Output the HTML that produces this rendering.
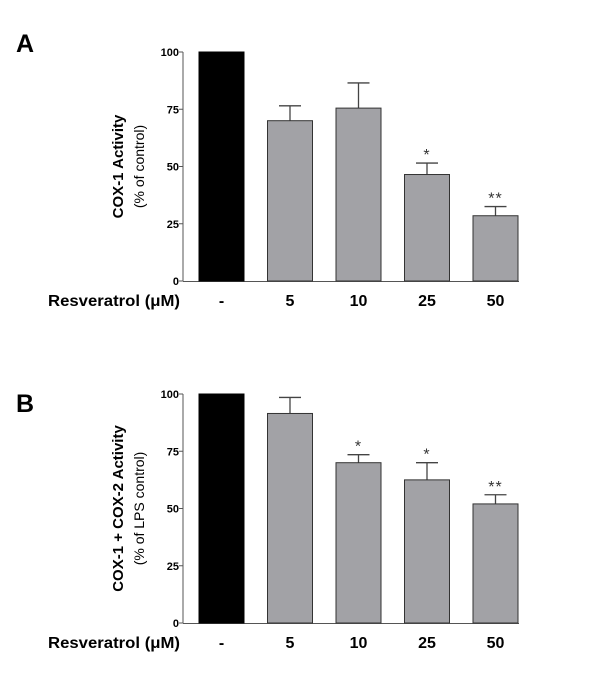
<!DOCTYPE html>
<html><head><meta charset="utf-8"><style>
body{margin:0;background:#fff;}
svg{display:block;font-family:"Liberation Sans",Arial,sans-serif;}
</style></head><body>
<svg id="chart" width="600" height="686"></svg>
<script>
const categories = ["-", "5", "10", "25", "50"];
const valuesA = [100, 70, 75.5, 46.5, 28.5];
const errTopA = [null, 76.5, 86.5, 51.5, 32.5];
const starsA = ["", "", "", "*", "**"];
const valuesB = [100, 91.5, 70, 62.5, 52];
const errTopB = [null, 98.5, 73.5, 70, 56];
const starsB = ["", "", "*", "*", "**"];
const yTicks = [0, 25, 50, 75, 100];

const NS = "http://www.w3.org/2000/svg";
const svg = document.getElementById("chart");
function mk(tag, attrs, parent) {
  const e = document.createElementNS(NS, tag);
  for (const k in attrs) e.setAttribute(k, attrs[k]);
  (parent || svg).appendChild(e);
  return e;
}

function panel(cfg) {
  const g = mk("g", {});
  
  
  const axisX = 183, y0 = cfg.y0, h = 229;
  const y = v => y0 - v / 100 * h;
  const xLeft = i => 199 + i * 68.5;
  const bw = 45;

  const L = mk("text", {x: 16, y: cfg.letterY, "font-size": 25, "font-weight": "bold"}, g);
  L.textContent = cfg.letter;
  
  

  const ax = mk("line", {x1: axisX, y1: y(100), x2: axisX, y2: y0, stroke: "#555", "stroke-width": 1}, g);
  
  
  const bx = mk("line", {x1: axisX, y1: y0 + 0.5, x2: 519, y2: y0 + 0.5, stroke: "#555", "stroke-width": 1}, g);
  
  

  yTicks.forEach(t => {
    const tl = mk("line", {x1: axisX - 4, y1: y(t), x2: axisX, y2: y(t), stroke: "#555"}, g);
    
    
    const tx = mk("text", {x: axisX - 4, y: y(t) + 4, "font-size": 11, "font-weight": "bold", "text-anchor": "end"}, g);
    tx.textContent = t;
    
    
  });

  const cy = (y(100) + y0) / 2;
  const t1 = mk("text", {x: 0, y: 0, "font-size": 15, "font-weight": "bold", "text-anchor": "middle", transform: `translate(123,${cy}) rotate(-90)`}, g);
  t1.textContent = cfg.title1;
  
  
  const t2 = mk("text", {x: 0, y: 0, "font-size": 14, "text-anchor": "middle", transform: `translate(144,${cy}) rotate(-90)`}, g);
  t2.textContent = cfg.title2;
  
  

  cfg.values.forEach((v, i) => {
    const x = xLeft(i), cx = x + bw / 2;
    const et = cfg.err[i];
    if (et != null) {
      const el = mk("path", {d: `M${cx},${y(v)} V${y(et)} M${cx - 11},${y(et)} H${cx + 11}`, stroke: "#444", "stroke-width": 1.3, fill: "none"}, g);
      
      
    }
    const r = mk("rect", {x: x, y: y(v), width: bw, height: y0 - y(v), fill: i === 0 ? "#000" : "#a2a2a6", stroke: i === 0 ? "#000" : "#333", "stroke-width": 1}, g);
    
    
    if (cfg.stars[i]) {
      const s = mk("text", {x: cx, y: y(et != null ? et : v) - 3, "font-size": 16, "text-anchor": "middle", fill: "#333", "letter-spacing": 1}, g);
      s.textContent = cfg.stars[i];
      
      
    }
    const cl = mk("text", {x: cx, y: y0 + 25, "font-size": 16, "font-weight": "bold", "text-anchor": "middle"}, g);
    cl.textContent = categories[i];
    
    
  });

  const xt = mk("text", {x: 48, y: y0 + 25, "font-size": 16, "font-weight": "bold", textLength: 132, lengthAdjust: "spacingAndGlyphs"}, g);
  xt.textContent = "Resveratrol (\u03bcM)";
  
  
}

panel({name: "panel-a", letter: "A", letterY: 52, y0: 281, values: valuesA, err: errTopA, stars: starsA,
  title1: "COX-1 Activity", title2: "(% of control)"});
panel({name: "panel-b", letter: "B", letterY: 412, y0: 623, values: valuesB, err: errTopB, stars: starsB,
  title1: "COX-1 + COX-2 Activity", title2: "(% of LPS control)"});
</script>
</body></html>
